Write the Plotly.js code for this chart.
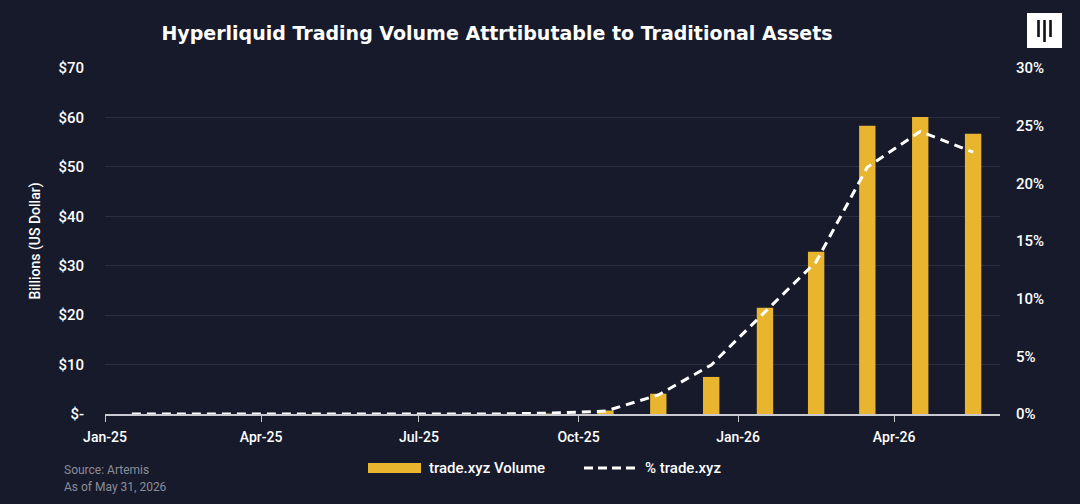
<!DOCTYPE html>
<html>
<head>
<meta charset="utf-8">
<script src="https://cdn.plot.ly/plotly-3.0.1.min.js"></script>
<style>
  html, body { margin: 0; padding: 0; background: #171a2b; }
  #chart { width: 1080px; height: 504px; }
</style>
</head>
<body>
<div id="chart"></div>
<script>
// ---- data ----
const months = ["2025-01","2025-02","2025-03","2025-04","2025-05","2025-06","2025-07","2025-08","2025-09",
                "2025-10","2025-11","2025-12","2026-01","2026-02","2026-03","2026-04","2026-05"];
const volume = [0, 0, 0, 0, 0, 0, 0, 0, 0.1, 0.7, 4.1, 7.5, 21.5, 32.8, 58.3, 60.1, 56.7];   // $B
const pctShare = [0, 0, 0, 0, 0, 0, 0, 0, 0.08, 0.25, 1.65, 4.25, 8.85, 13.2, 21.4, 24.5, 22.7]; // %
const leftTickVals = [0, 10, 20, 30, 40, 50, 60, 70];
const leftTickText = ["$-", "$10", "$20", "$30", "$40", "$50", "$60", "$70"];
const rightTickVals = [0, 5, 10, 15, 20, 25, 30];
const rightTickText = ["0%", "5%", "10%", "15%", "20%", "25%", "30%"];
const titleText = "Hyperliquid Trading Volume Attrtibutable to Traditional Assets";
const seriesNames = ["trade.xyz Volume", "% trade.xyz"];
const sourceLines = ["Source: Artemis", "As of May 31, 2026"];

// ---- layout helpers (pixel -> paper) ----
const L = 105, R = 1000, T = 68, B = 414;
const px = x => (x - L) / (R - L);
const py = y => (B - y) / (B - T);

const BG = "#171a2b", GOLD = "#e9b52f", GRID = "#2c2f42", TXT = "#ffffff";

const traces = [
  {
    type: "bar", name: seriesNames[0], x: months, y: volume,
    xperiod: "M1", xperiodalignment: "middle",
    marker: { color: GOLD, line: { width: 0 } },
    yaxis: "y", hoverinfo: "skip", showlegend: false
  },
  {
    type: "scatter", mode: "lines", name: seriesNames[1], x: months, y: pctShare,
    xperiod: "M1", xperiodalignment: "middle",
    line: { color: "#ffffff", width: 3, dash: "9px,6px" },
    yaxis: "y2", hoverinfo: "skip", showlegend: false
  }
];

const layout = {
  width: 1080, height: 504,
  paper_bgcolor: BG, plot_bgcolor: BG,
  margin: { l: L, r: 1080 - R, t: T, b: 504 - B, pad: 0 },
  bargap: 0.68,
  showlegend: false,
  font: { family: "Roboto, 'Liberation Sans', sans-serif", color: TXT, size: 14 },
  title: {
    text: "<b>" + titleText + "</b>",
    font: { family: "'DejaVu Sans', 'Liberation Sans', sans-serif", size: 19, color: TXT },
    x: 497 / 1080, xanchor: "center", xref: "container",
    y: 1 - 33 / 504, yanchor: "middle", yref: "container"
  },
  xaxis: {
    type: "date",
    range: ["2025-01-01", "2026-06-01"],
    tick0: "2025-01-01", dtick: "M3", tickformat: "%b-%y",
    showgrid: false, zeroline: false,
    showline: true, linecolor: "#c9cad0", linewidth: 1.5,
    ticks: "outside", ticklen: 6, tickcolor: "#c9cad0", tickwidth: 1,
    tickfont: { family: "Roboto, sans-serif", size: 14, color: TXT, weight: 500 },
    ticklabelstandoff: 4,
    fixedrange: true
  },
  yaxis: {
    range: [0, 70], tickvals: leftTickVals, ticktext: leftTickText,
    showgrid: true, gridcolor: GRID, gridwidth: 1, zeroline: false,
    showline: false, ticks: "",
    tickfont: { family: "Roboto, sans-serif", size: 15, color: TXT, weight: 500 },
    ticklabelstandoff: 20,
    title: { text: "Billions (US Dollar)", font: { family: "Roboto, sans-serif", size: 14, color: TXT, weight: 500 }, standoff: 14 },
    fixedrange: true
  },
  yaxis2: {
    range: [0, 30], tickvals: rightTickVals, ticktext: rightTickText,
    overlaying: "y", side: "right",
    showgrid: false, zeroline: false, showline: false, ticks: "",
    tickfont: { family: "Roboto, sans-serif", size: 15, color: TXT, weight: 500 },
    ticklabelstandoff: 15,
    fixedrange: true
  },
  shapes: [
    // logo
    { type: "rect", xref: "paper", yref: "paper", x0: px(1027), x1: px(1062), y0: py(48), y1: py(13),
      fillcolor: "#ffffff", line: { width: 0 } },
    { type: "line", xref: "paper", yref: "paper", x0: px(1038.5), x1: px(1038.5), y0: py(37), y1: py(20),
      line: { color: "#111111", width: 2.6 } },
    { type: "line", xref: "paper", yref: "paper", x0: px(1044.5), x1: px(1044.5), y0: py(42), y1: py(20),
      line: { color: "#111111", width: 2.6 } },
    { type: "line", xref: "paper", yref: "paper", x0: px(1050.5), x1: px(1050.5), y0: py(37), y1: py(20),
      line: { color: "#111111", width: 2.6 } },
    // legend swatches
    { type: "rect", xref: "paper", yref: "paper", x0: px(368), x1: px(421), y0: py(473), y1: py(463),
      fillcolor: GOLD, line: { width: 0 } },
    { type: "line", xref: "paper", yref: "paper", x0: px(584), x1: px(640), y0: py(468), y1: py(468),
      line: { color: "#ffffff", width: 3, dash: "9px,5px" } }
  ],
  annotations: [
    { xref: "paper", yref: "paper", x: px(427), y: py(468), xanchor: "left", yanchor: "middle",
      text: seriesNames[0], showarrow: false,
      font: { family: "Roboto, sans-serif", size: 15, color: TXT, weight: 500 } },
    { xref: "paper", yref: "paper", x: px(643), y: py(468), xanchor: "left", yanchor: "middle",
      text: seriesNames[1], showarrow: false,
      font: { family: "Roboto, sans-serif", size: 15, color: TXT, weight: 500 } },
    { xref: "paper", yref: "paper", x: px(62), y: py(470), xanchor: "left", yanchor: "middle",
      text: sourceLines[0], showarrow: false,
      font: { family: "Roboto, sans-serif", size: 12, color: "#8b8d99" } },
    { xref: "paper", yref: "paper", x: px(62), y: py(487), xanchor: "left", yanchor: "middle",
      text: sourceLines[1], showarrow: false,
      font: { family: "Roboto, sans-serif", size: 12, color: "#8b8d99" } }
  ]
};

Plotly.newPlot("chart", traces, layout, { displayModeBar: false, staticPlot: true });
</script>
</body>
</html>
